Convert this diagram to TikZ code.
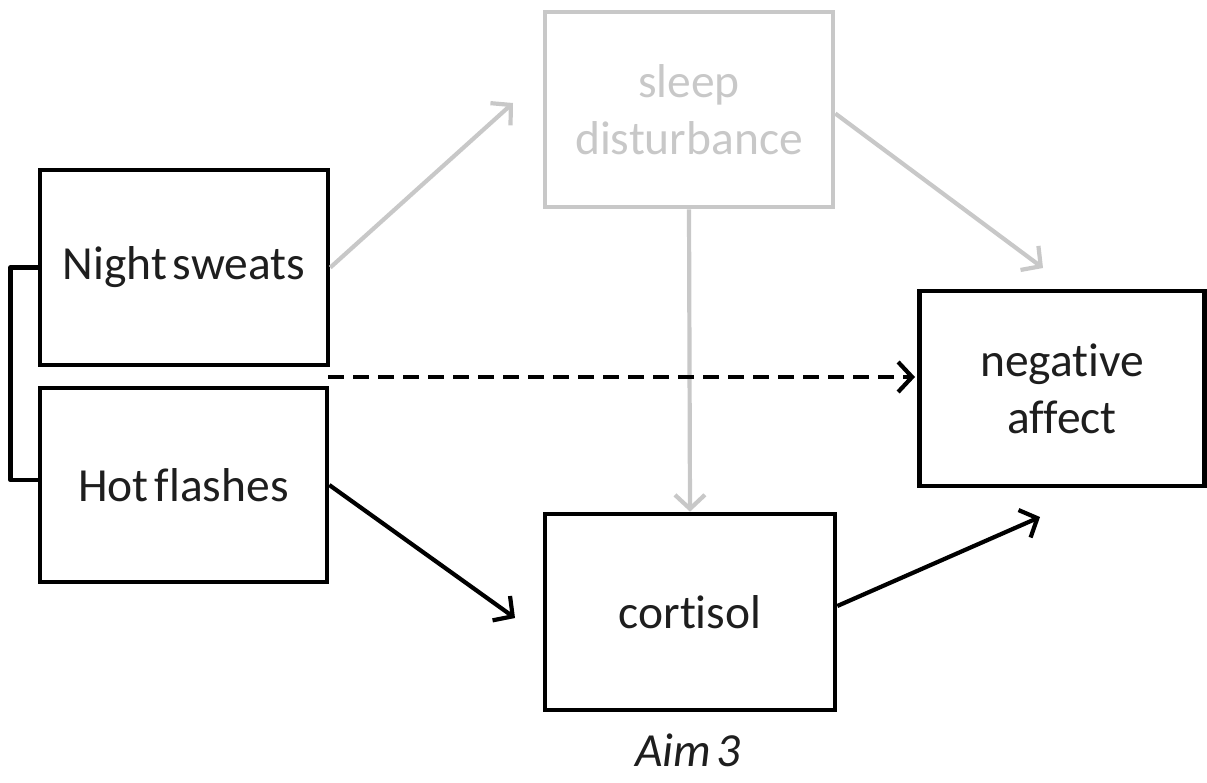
\documentclass[tikz,border=0pt]{standalone}
\usepackage{fontspec}
\setmainfont{Carlito}[Ligatures=NoCommon,WordSpace=0.55]
\usetikzlibrary{arrows.meta}
\definecolor{ink}{RGB}{30,30,30}
\definecolor{faint}{RGB}{200,200,200}
\begin{document}
\begin{tikzpicture}[x=1pt,y=-1pt,
  box/.style={draw=black,line width=4.6pt,rectangle,align=center,text=ink,
    font=\fontsize{47.5}{57}\selectfont,inner sep=0pt},
  fadedbox/.style={box,draw=faint,text=faint},
  link/.style={line width=4.2pt,-{Straight Barb[length=14pt,width=30pt,line width=4.2pt]}},
  fadedlink/.style={link,draw=faint},
  solidlink/.style={link,draw=black},
  dashlink/.style={link,draw=black,dash pattern=on 16pt off 9pt}]
\useasboundingbox (0,0) rectangle (1207,782);
% boxes
\node[box,minimum width=288pt,minimum height=195pt] (ns) at (184,267.5) {Night sweats};
\node[box,minimum width=287pt,minimum height=194pt] (hf) at (183.5,485) {Hot flashes};
\node[fadedbox,minimum width=288pt,minimum height=195pt] (sd) at (689,109.5) {sleep\\disturbance};
\node[box,minimum width=285pt,minimum height=195pt] (na) at (1062,388.5) {negative\\affect};
\node[box,minimum width=290pt,minimum height=196pt] (co) at (690,612) {cortisol};
\node[text=ink,font=\fontsize{47.5}{52}\selectfont\itshape] (aim) at (688,750) {Aim 3};
% free ends of the arrows
\coordinate (sdin) at (513,103);
\coordinate (nain) at (1043,268);
\coordinate (dashend) at (915,377);
\coordinate (dashstart) at (328,377);
\coordinate (coin) at (515,618);
\coordinate (naout) at (1040,517);
% bracket joining the two symptom boxes
\draw[line width=4.6pt,line join=round] (ns.west) -- ++(-27,0) |- ([yshift=5pt]hf.west);
% connectors
\draw[fadedlink] (ns.east) -- (sdin);
\draw[fadedlink] ([yshift=-4pt]sd.east) -- (nain);
\draw[fadedlink] (sd.south) -- (co.north);
\draw[dashlink] (dashstart) -- (dashend);
\draw[solidlink] (hf.east) -- (coin);
\draw[solidlink] ([yshift=6pt]co.east) -- (naout);
\end{tikzpicture}
\end{document}
